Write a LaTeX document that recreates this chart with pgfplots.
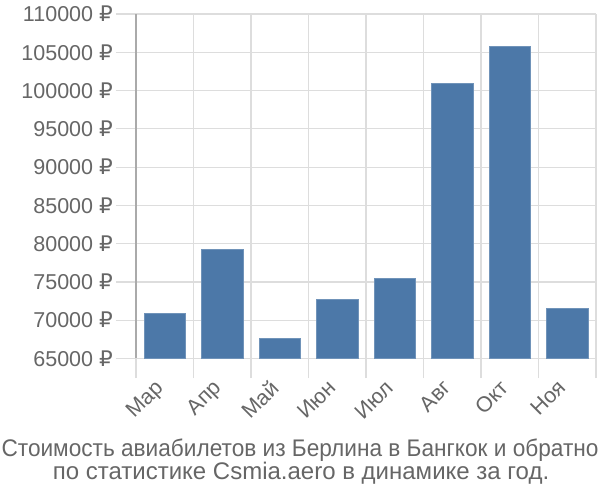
\documentclass[border=0pt]{standalone}
\usepackage{graphicx}
\usepackage{pgfplots}
\pgfplotsset{compat=1.18}
\usepackage{fontspec}
\setmainfont{Liberation Sans}
\newfontfamily\rub{DejaVu Sans}
\definecolor{barc}{HTML}{4C78A8}
\definecolor{gridc}{HTML}{DDDDDD}
\definecolor{axc}{HTML}{AAAAAA}
\definecolor{txt}{HTML}{666666}
\begin{document}
\begin{tikzpicture}
\useasboundingbox (0,0) rectangle (600bp,500bp);
\begin{axis}[
  at={(136bp,141.5bp)}, anchor=south west,
  scale only axis, width=460bp, height=344.5bp,
  xmin=-0.5, xmax=7.5, ymin=65000, ymax=110000,
  scaled y ticks=false,
  ytick={65000,70000,...,110000},
  yticklabel={\pgfmathprintnumber[fixed,1000 sep={}]{\tick}\ {\rub ₽}},
  /pgf/number format/assume math mode=true,
  xtick={0,...,7},
  xticklabels={Мар,Апр,Май,Июн,Июл,Авг,Окт,Ноя},
  minor xtick={-0.5,0.5,...,7.5},
  major x tick style={draw=none},
  xminorgrids, ymajorgrids,
  grid style={gridc, line width=1.2bp},
  minor grid style={gridc, line width=1.2bp},
  tick align=outside,
  major tick length=20bp, minor tick length=20bp,
  minor x tick style={gridc, line width=1.2bp},
  major y tick style={gridc, line width=1.2bp},
  axis x line*=bottom, axis y line*=left,
  x axis line style={gridc, line width=1.2bp, -},
  y axis line style={axc, line width=1.2bp, -},
  tick label style={text=txt, font=\fontsize{21.5bp}{24bp}\selectfont},
  yticklabel style={anchor=east, inner sep=0pt, xshift=-3bp},
  xticklabel style={anchor=north east, inner sep=0pt, xshift=-11bp, yshift=0bp, rotate=45},
  ybar, bar width=41.5bp, bar shift=0pt,
  clip=false,
]
\addplot[fill=barc, draw=barc!80!white, line width=0.6bp] coordinates {
(0,70910) (1,79300) (2,67600) (3,72700) (4,75450) (5,100910) (6,105780) (7,71530)
};
\end{axis}
\node[text=txt, inner sep=0pt, anchor=base, font=\fontsize{24bp}{28bp}\selectfont] at (300bp,43.5bp)
  {\scalebox{0.943}[1]{Стоимость авиабилетов из Берлина в Бангкок и обратно}};
\node[text=txt, inner sep=0pt, anchor=base, font=\fontsize{24bp}{28bp}\selectfont] at (301bp,21bp)
  {по статистике Csmia.aero в динамике за год.};
\end{tikzpicture}
\end{document}
